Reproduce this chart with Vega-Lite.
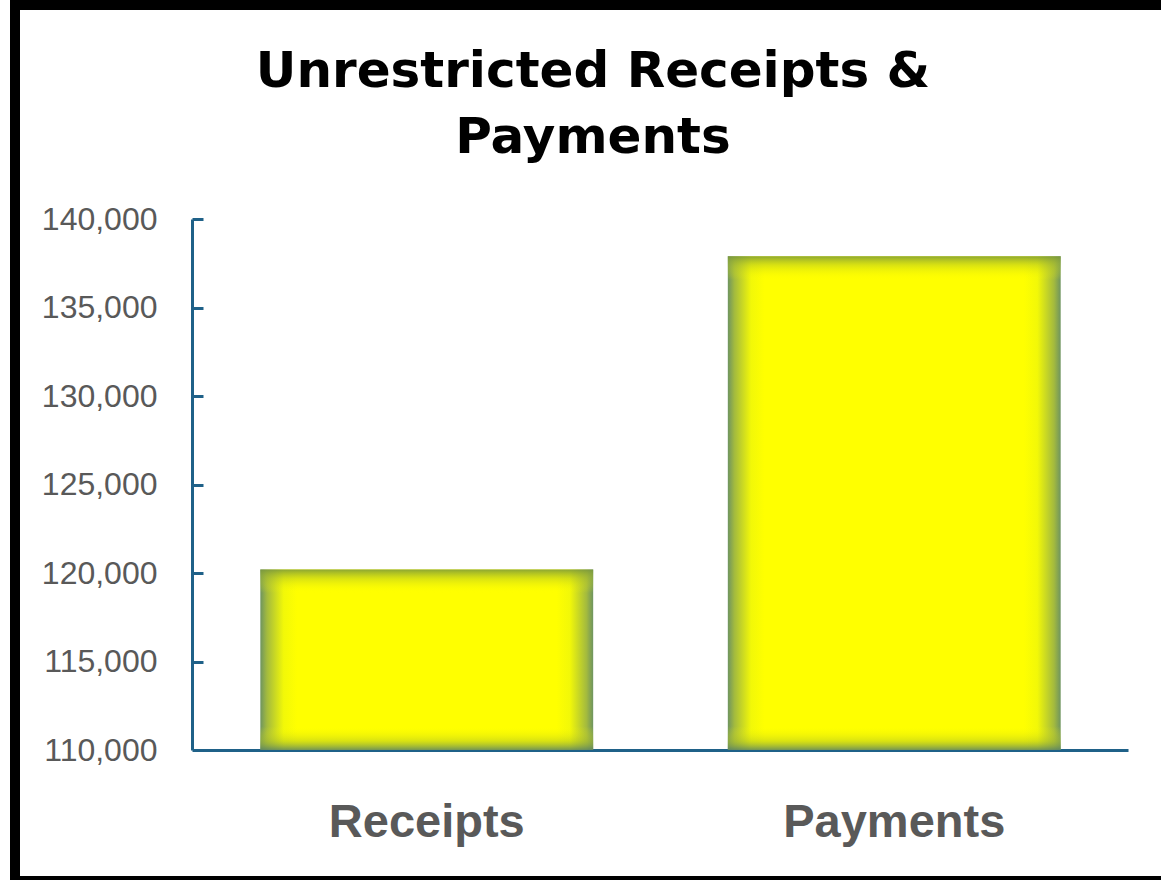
{
  "$schema": "https://vega.github.io/schema/vega-lite/v6.json",
  "width": 1156,
  "height": 876,
  "autosize": {"type": "none"},
  "padding": {"left": 15, "top": 5, "right": -10, "bottom": -1},
  "background": "white",
  "config": {"view": {"stroke": "black", "strokeWidth": 10, "fill": "white"}},
  "title": {
    "text": ["Unrestricted Receipts &", "Payments"],
    "font": "DejaVu Sans",
    "fontSize": 50,
    "fontWeight": "bold",
    "color": "black",
    "lineHeight": 66,
    "anchor": "middle",
    "frame": "group",
    "offset": -158
  },
  "data": {
    "values": [
      {"category": "Receipts", "amount": 120200},
      {"category": "Payments", "amount": 137900}
    ]
  },
  "encoding": {
    "x": {
      "field": "category",
      "type": "nominal",
      "sort": ["Receipts", "Payments"],
      "scale": {"range": [178, 1113], "paddingInner": 0.288, "paddingOuter": 0.144},
      "axis": {
        "orient": "bottom",
        "offset": -131,
        "ticks": false,
        "labelFont": "Liberation Sans",
        "labelFontWeight": "bold",
        "labelFontSize": 47,
        "labelColor": "#595959",
        "labelPadding": 49,
        "labelAngle": 0,
        "labelLimit": 600,
        "domainColor": "#1F6188",
        "domainWidth": 3,
        "grid": false,
        "title": null
      }
    },
    "y": {
      "field": "amount",
      "type": "quantitative",
      "scale": {"domain": [110000, 140000], "range": [745, 214], "nice": false, "zero": false},
      "axis": {
        "orient": "left",
        "offset": -177,
        "values": [110000, 115000, 120000, 125000, 130000, 135000, 140000],
        "format": ",d",
        "labelFont": "Liberation Sans",
        "labelFontSize": 32,
        "labelColor": "#595959",
        "labelPadding": 46,
        "labelOverlap": false,
        "tickSize": -11,
        "tickWidth": 3,
        "tickColor": "#1F6188",
        "domainColor": "#1F6188",
        "domainWidth": 3,
        "grid": false,
        "title": null
      }
    },
    "y2": {"datum": 110000}
  },
  "layer": [
    {
      "mark": {
        "type": "bar",
        "fill": {
          "gradient": "linear", "x1": 0, "y1": 0, "x2": 1, "y2": 0,
          "stops": [
            {"offset": 0, "color": "#6E9460"},
            {"offset": 0.02, "color": "#A3BA3E"},
            {"offset": 0.07, "color": "#F2F808"},
            {"offset": 0.11, "color": "#FFFF00"},
            {"offset": 0.89, "color": "#FFFF00"},
            {"offset": 0.93, "color": "#F2F808"},
            {"offset": 0.98, "color": "#A3BA3E"},
            {"offset": 1, "color": "#6E9460"}
          ]
        }
      }
    },
    {
      "transform": [{"filter": "datum.category === 'Receipts'"}],
      "mark": {
        "type": "bar",
        "fill": {
          "gradient": "linear", "x1": 0, "y1": 0, "x2": 0, "y2": 1,
          "stops": [
            {"offset": 0, "color": "rgba(120,150,60,0.85)"},
            {"offset": 0.05, "color": "rgba(170,190,40,0.45)"},
            {"offset": 0.13, "color": "rgba(255,255,0,0)"},
            {"offset": 0.87, "color": "rgba(255,255,0,0)"},
            {"offset": 0.95, "color": "rgba(170,190,40,0.45)"},
            {"offset": 1, "color": "rgba(90,130,100,0.85)"}
          ]
        }
      }
    },
    {
      "transform": [{"filter": "datum.category === 'Payments'"}],
      "mark": {
        "type": "bar",
        "fill": {
          "gradient": "linear", "x1": 0, "y1": 0, "x2": 0, "y2": 1,
          "stops": [
            {"offset": 0, "color": "rgba(120,150,60,0.85)"},
            {"offset": 0.018, "color": "rgba(170,190,40,0.45)"},
            {"offset": 0.048, "color": "rgba(255,255,0,0)"},
            {"offset": 0.952, "color": "rgba(255,255,0,0)"},
            {"offset": 0.982, "color": "rgba(170,190,40,0.45)"},
            {"offset": 1, "color": "rgba(90,130,100,0.85)"}
          ]
        }
      }
    }
  ]
}
